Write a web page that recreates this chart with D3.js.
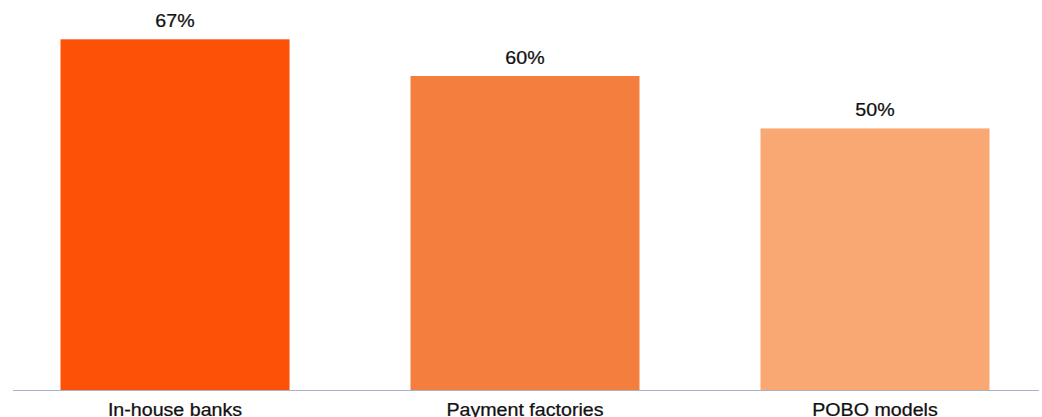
<!DOCTYPE html>
<html>
<head>
<meta charset="utf-8">
<script src="https://cdn.jsdelivr.net/npm/d3@7"></script>
<style>
  html, body { margin: 0; padding: 0; background: #fff; }
  svg { display: block; }
  text { font-family: "Liberation Sans", Arial, Helvetica, sans-serif; fill: #111; stroke: #111; stroke-width: 0.25; }
</style>
</head>
<body>
<svg id="chart" width="1042" height="417"></svg>
<script>
const categories = ["In-house banks", "Payment factories", "POBO models"];
const values = [67, 60, 50];
const colors = ["#FD5108", "#F47E3E", "#F9A874"];

const svg = d3.select("#chart");
const baseline = 390.5;
const fontSize = 17.7;
const stretch = 1.11; // slightly wide sans face

const x = d3.scaleBand()
  .domain(categories)
  .range([0, 1050])
  .paddingInner(0.3457)
  .paddingOuter(0.1729);

const y = d3.scaleLinear()
  .domain([0, 74.5])
  .range([baseline, 0]);

// bars
svg.selectAll("rect.bar")
  .data(categories)
  .join("rect")
  .attr("class", "bar")
  .attr("x", d => x(d))
  .attr("width", x.bandwidth())
  .attr("y", (d, i) => y(values[i]))
  .attr("height", (d, i) => baseline - y(values[i]))
  .attr("fill", (d, i) => colors[i]);

// value labels above bars
svg.selectAll("g.value")
  .data(categories)
  .join("g")
  .attr("class", "value")
  .attr("transform", (d, i) =>
    `translate(${x(d) + x.bandwidth() / 2},${y(values[i]) - 12.5}) scale(${stretch},1)`)
  .append("text")
  .attr("text-anchor", "middle")
  .attr("font-size", fontSize)
  .text((d, i) => values[i] + "%");

// category axis
const axis = d3.axisBottom(x).tickSize(0).tickPadding(0);
const g = svg.append("g")
  .attr("transform", `translate(0,${baseline})`)
  .call(axis);
g.select(".domain").remove();
g.append("line")
  .attr("x1", 13).attr("x2", 1039)
  .attr("y1", 0).attr("y2", 0)
  .attr("stroke", "#A9B3C6")
  .attr("stroke-width", 1.2);
g.selectAll(".tick text")
  .attr("y", 25.5)
  .attr("dy", 0)
  .attr("transform", `scale(${stretch},1)`)
  .attr("font-size", fontSize)
  .attr("font-family", "Liberation Sans, Arial, sans-serif")
  .attr("fill", "#111");
</script>
</body>
</html>
